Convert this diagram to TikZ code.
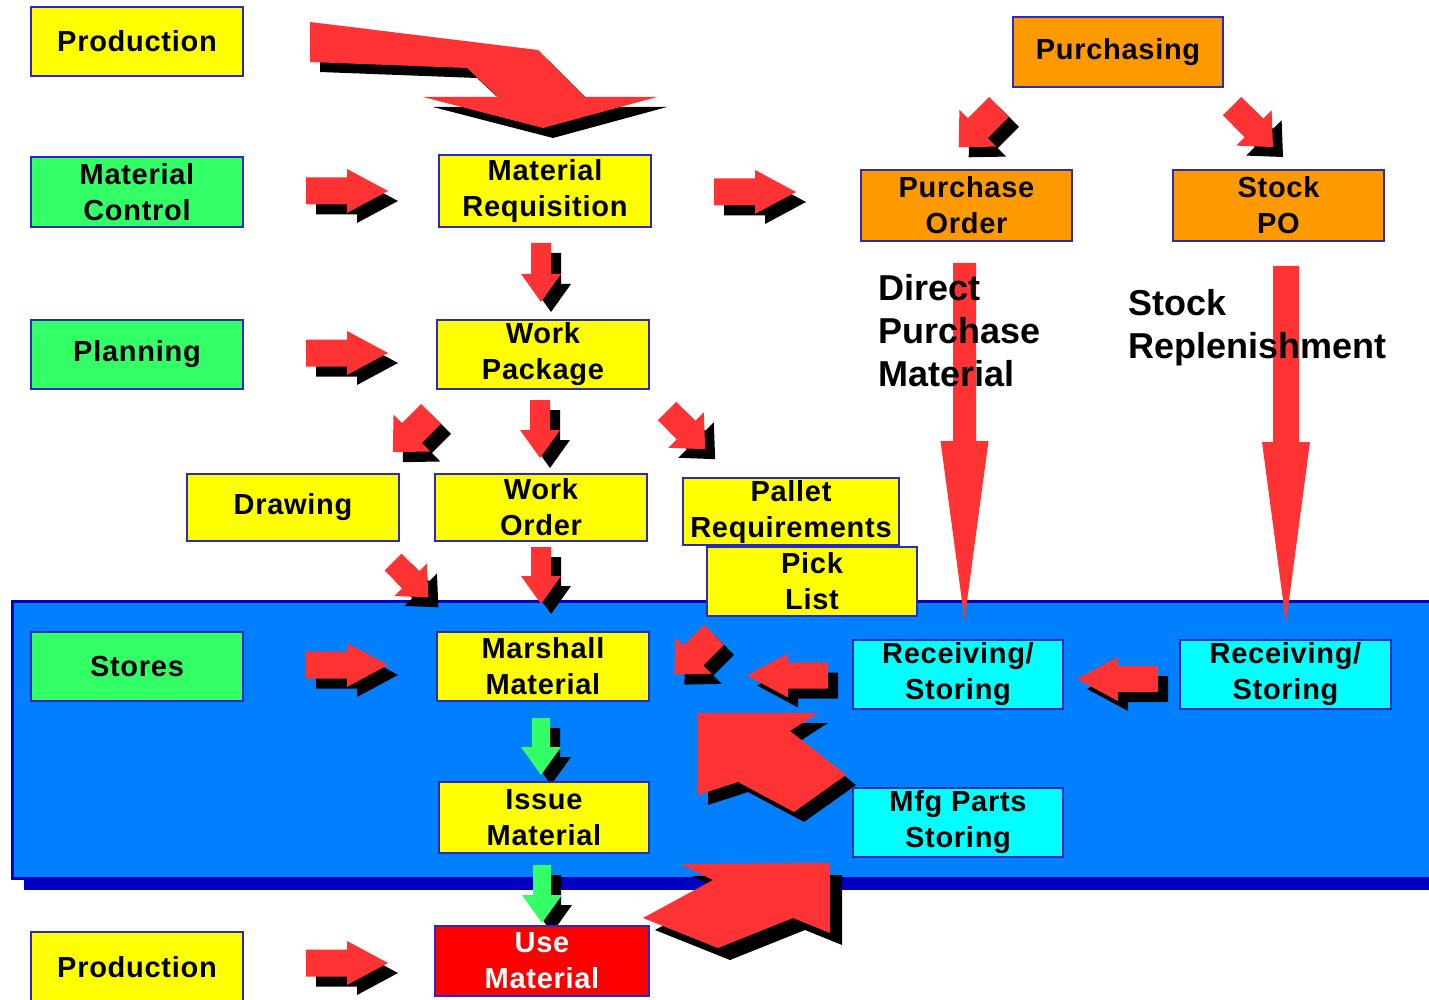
\documentclass[tikz,border=0pt]{standalone}
\usepackage{fontspec}
\setmainfont{Liberation Sans}
\newfontfamily\boxfont[LetterSpace=2.5]{Liberation Sans}
\definecolor{byellow}{HTML}{FFFF00}
\definecolor{bgreen}{HTML}{33FF66}
\definecolor{borange}{HTML}{FF9900}
\definecolor{bcyan}{HTML}{00FFFF}
\definecolor{bred}{HTML}{FF0000}
\definecolor{bordc}{HTML}{2A2AC0}
\definecolor{ared}{HTML}{FF3333}
\definecolor{agreen}{HTML}{33FF66}
\definecolor{panelblue}{HTML}{0080FF}
\definecolor{paneldark}{HTML}{0000C0}
\newcommand\arrowbody[8]{%
  \fill[#1, shift={({#2},{#3})}, rotate=#4] (0,-#6) -- ({#5-#7},-#6) -- ({#5-#7},-#8) -- (#5,0) -- ({#5-#7},#8) -- ({#5-#7},#6) -- (0,#6) -- cycle;}
\newcommand\blkarrow[8]{%
  \arrowbody{black}{#2+10}{#3+10}{#4}{#5}{#6}{#7}{#8}%
  \arrowbody{#1}{#2}{#3}{#4}{#5}{#6}{#7}{#8}}
\tikzset{
  box/.style={draw=bordc, line width=1pt, inner sep=0pt, align=center,
    minimum width=106pt, minimum height=35pt,
    font=\boxfont\bfseries\fontsize{14.5}{18}\selectfont, text=black},
  bsize/.style 2 args={minimum width={#1*0.5pt}, minimum height={#2*0.5pt}},
  ybox/.style={box, fill=byellow},
  gbox/.style={box, fill=bgreen},
  obox/.style={box, fill=borange},
  cbox/.style={box, fill=bcyan},
  rbox/.style={box, fill=bred, text=white},
  lbl/.style={inner sep=0pt, align=left, anchor=north west,
    font=\bfseries\fontsize{18}{21.5}\selectfont},
}
\begin{document}
\begin{tikzpicture}[x=0.5pt,y=-0.5pt]
\useasboundingbox (0,0) rectangle (1429,1000);
\fill[white] (0,0) rectangle (1429,1000);
% panel
\fill[paneldark] (24,613) rectangle (1445,890);
\filldraw[fill=panelblue, draw=paneldark, line width=1.5pt] (12,601) rectangle (1445,878);

% big bent arrow at top
\fill[black, shift={(10,10)}] (310,22) -- (538,50) -- (585,97) -- (657,97) -- (543,128) -- (423,97) -- (498,97) -- (467,68) -- (310,62) -- cycle;
\fill[ared] (310,22) -- (538,50) -- (585,97) -- (657,97) -- (543,128) -- (423,97) -- (498,97) -- (467,68) -- (310,62) -- cycle;

% big arrow pointing up-left
\fill[black, shift={(10,10)}] (698,713) -- (818,713) -- (790,731) -- (846,775) -- (794,812) -- (738,782) -- (698,795) -- cycle;
\fill[ared] (698,713) -- (818,713) -- (790,731) -- (846,775) -- (794,812) -- (738,782) -- (698,795) -- cycle;

% big arrow at bottom pointing left
\fill[black, shift={(12,12)}] (643,918) -- (713,880) -- (680,864) -- (830,863) -- (830,933) -- (793,918) -- (718,948) -- cycle;
\fill[ared] (643,918) -- (713,880) -- (680,864) -- (830,863) -- (830,933) -- (793,918) -- (718,948) -- cycle;

% right arrows
\blkarrow{ared}{306}{191}{0}{82}{13.5}{41}{22}
\blkarrow{ared}{306}{353}{0}{82}{13.5}{41}{22}
\blkarrow{ared}{306}{665}{0}{82}{13.5}{41}{22}
\blkarrow{ared}{306}{963}{0}{82}{13.5}{41}{22}
\blkarrow{ared}{714}{192}{0}{82}{13.5}{41}{22}
% left arrows
\blkarrow{ared}{828}{675.5}{180}{81}{13}{41}{22}
\blkarrow{ared}{1158}{679}{180}{81}{13}{41}{22}
% down arrows
\blkarrow{ared}{541}{243}{-90}{59}{10}{28}{20}
\blkarrow{ared}{540}{400}{-90}{58}{10}{28}{20}
\blkarrow{ared}{541}{547}{-90}{57}{10}{28}{20}
\blkarrow{agreen}{541}{718}{-90}{57}{9}{28}{20}
\blkarrow{agreen}{542}{865}{-90}{58}{9}{28}{20}
% diagonal arrows
\blkarrow{ared}{431}{414}{225}{54}{14}{27}{26}
\blkarrow{ared}{999}{107}{225}{57}{14}{27}{26}
\blkarrow{ared}{714}{635}{225}{56}{14}{27}{26}
\blkarrow{ared}{667}{411}{-45}{54}{13}{27}{25}
\blkarrow{ared}{1232}{106}{-45}{58}{13}{27}{25}
\blkarrow{ared}{393}{562}{-45}{50}{12}{25}{23}

% long arrows
\arrowbody{ared}{964.5}{263}{-90}{357}{11.5}{179}{24}
\arrowbody{ared}{1286}{266}{-90}{357}{13}{181}{24}

% labels
\node[lbl] (dpm) at (878,274) {Direct\\Purchase\\Material};
\node[lbl] (srep) at (1128,289) {Stock\\Replenishment};

% boxes
\node[ybox, bsize={212}{69}] (prodtop) at (137,41.5) {Production};
\node[gbox, bsize={212}{70}] (matctl) at (137,192) {Material\\Control};
\node[gbox, bsize={212}{69}] (plan) at (137,354.5) {Planning};
\node[gbox, bsize={212}{69}] (stores) at (137,666.5) {Stores};
\node[ybox, bsize={212}{70}] (prodbot) at (137,967) {Production};
\node[ybox, bsize={212}{72}] (matreq) at (545,191) {Material\\Requisition};
\node[ybox, bsize={212}{69}] (workpkg) at (543,354.5) {Work\\Package};
\node[ybox, bsize={212}{67}] (drawing) at (293,507.5) {Drawing};
\node[ybox, bsize={212}{67}] (workord) at (541,507.5) {Work\\Order};
\node[ybox, bsize={216}{67}] (pallet) at (791,511.5) {Pallet\\Requirements};
\node[ybox, bsize={210}{69}] (pick) at (812,581.5) {Pick\\List};
\node[ybox, bsize={212}{69}] (marsh) at (543,666.5) {Marshall\\Material};
\node[ybox, bsize={210}{71}] (issue) at (544,817.5) {Issue\\Material};
\node[rbox, bsize={214}{70}] (use) at (542,961) {Use\\Material};
\node[obox, bsize={210}{70}] (purch) at (1118,52) {Purchasing};
\node[obox, bsize={211}{71}] (po) at (966.5,205.5) {Purchase\\Order};
\node[obox, bsize={211}{71}] (stockpo) at (1278.5,205.5) {Stock\\PO};
\node[cbox, bsize={210}{69}] (recv1) at (958,674.5) {Receiving/\\Storing};
\node[cbox, bsize={211}{69}] (recv2) at (1285.5,674.5) {Receiving/\\Storing};
\node[cbox, bsize={210}{69}] (mfg) at (958,822.5) {Mfg Parts\\Storing};
\end{tikzpicture}
\end{document}
